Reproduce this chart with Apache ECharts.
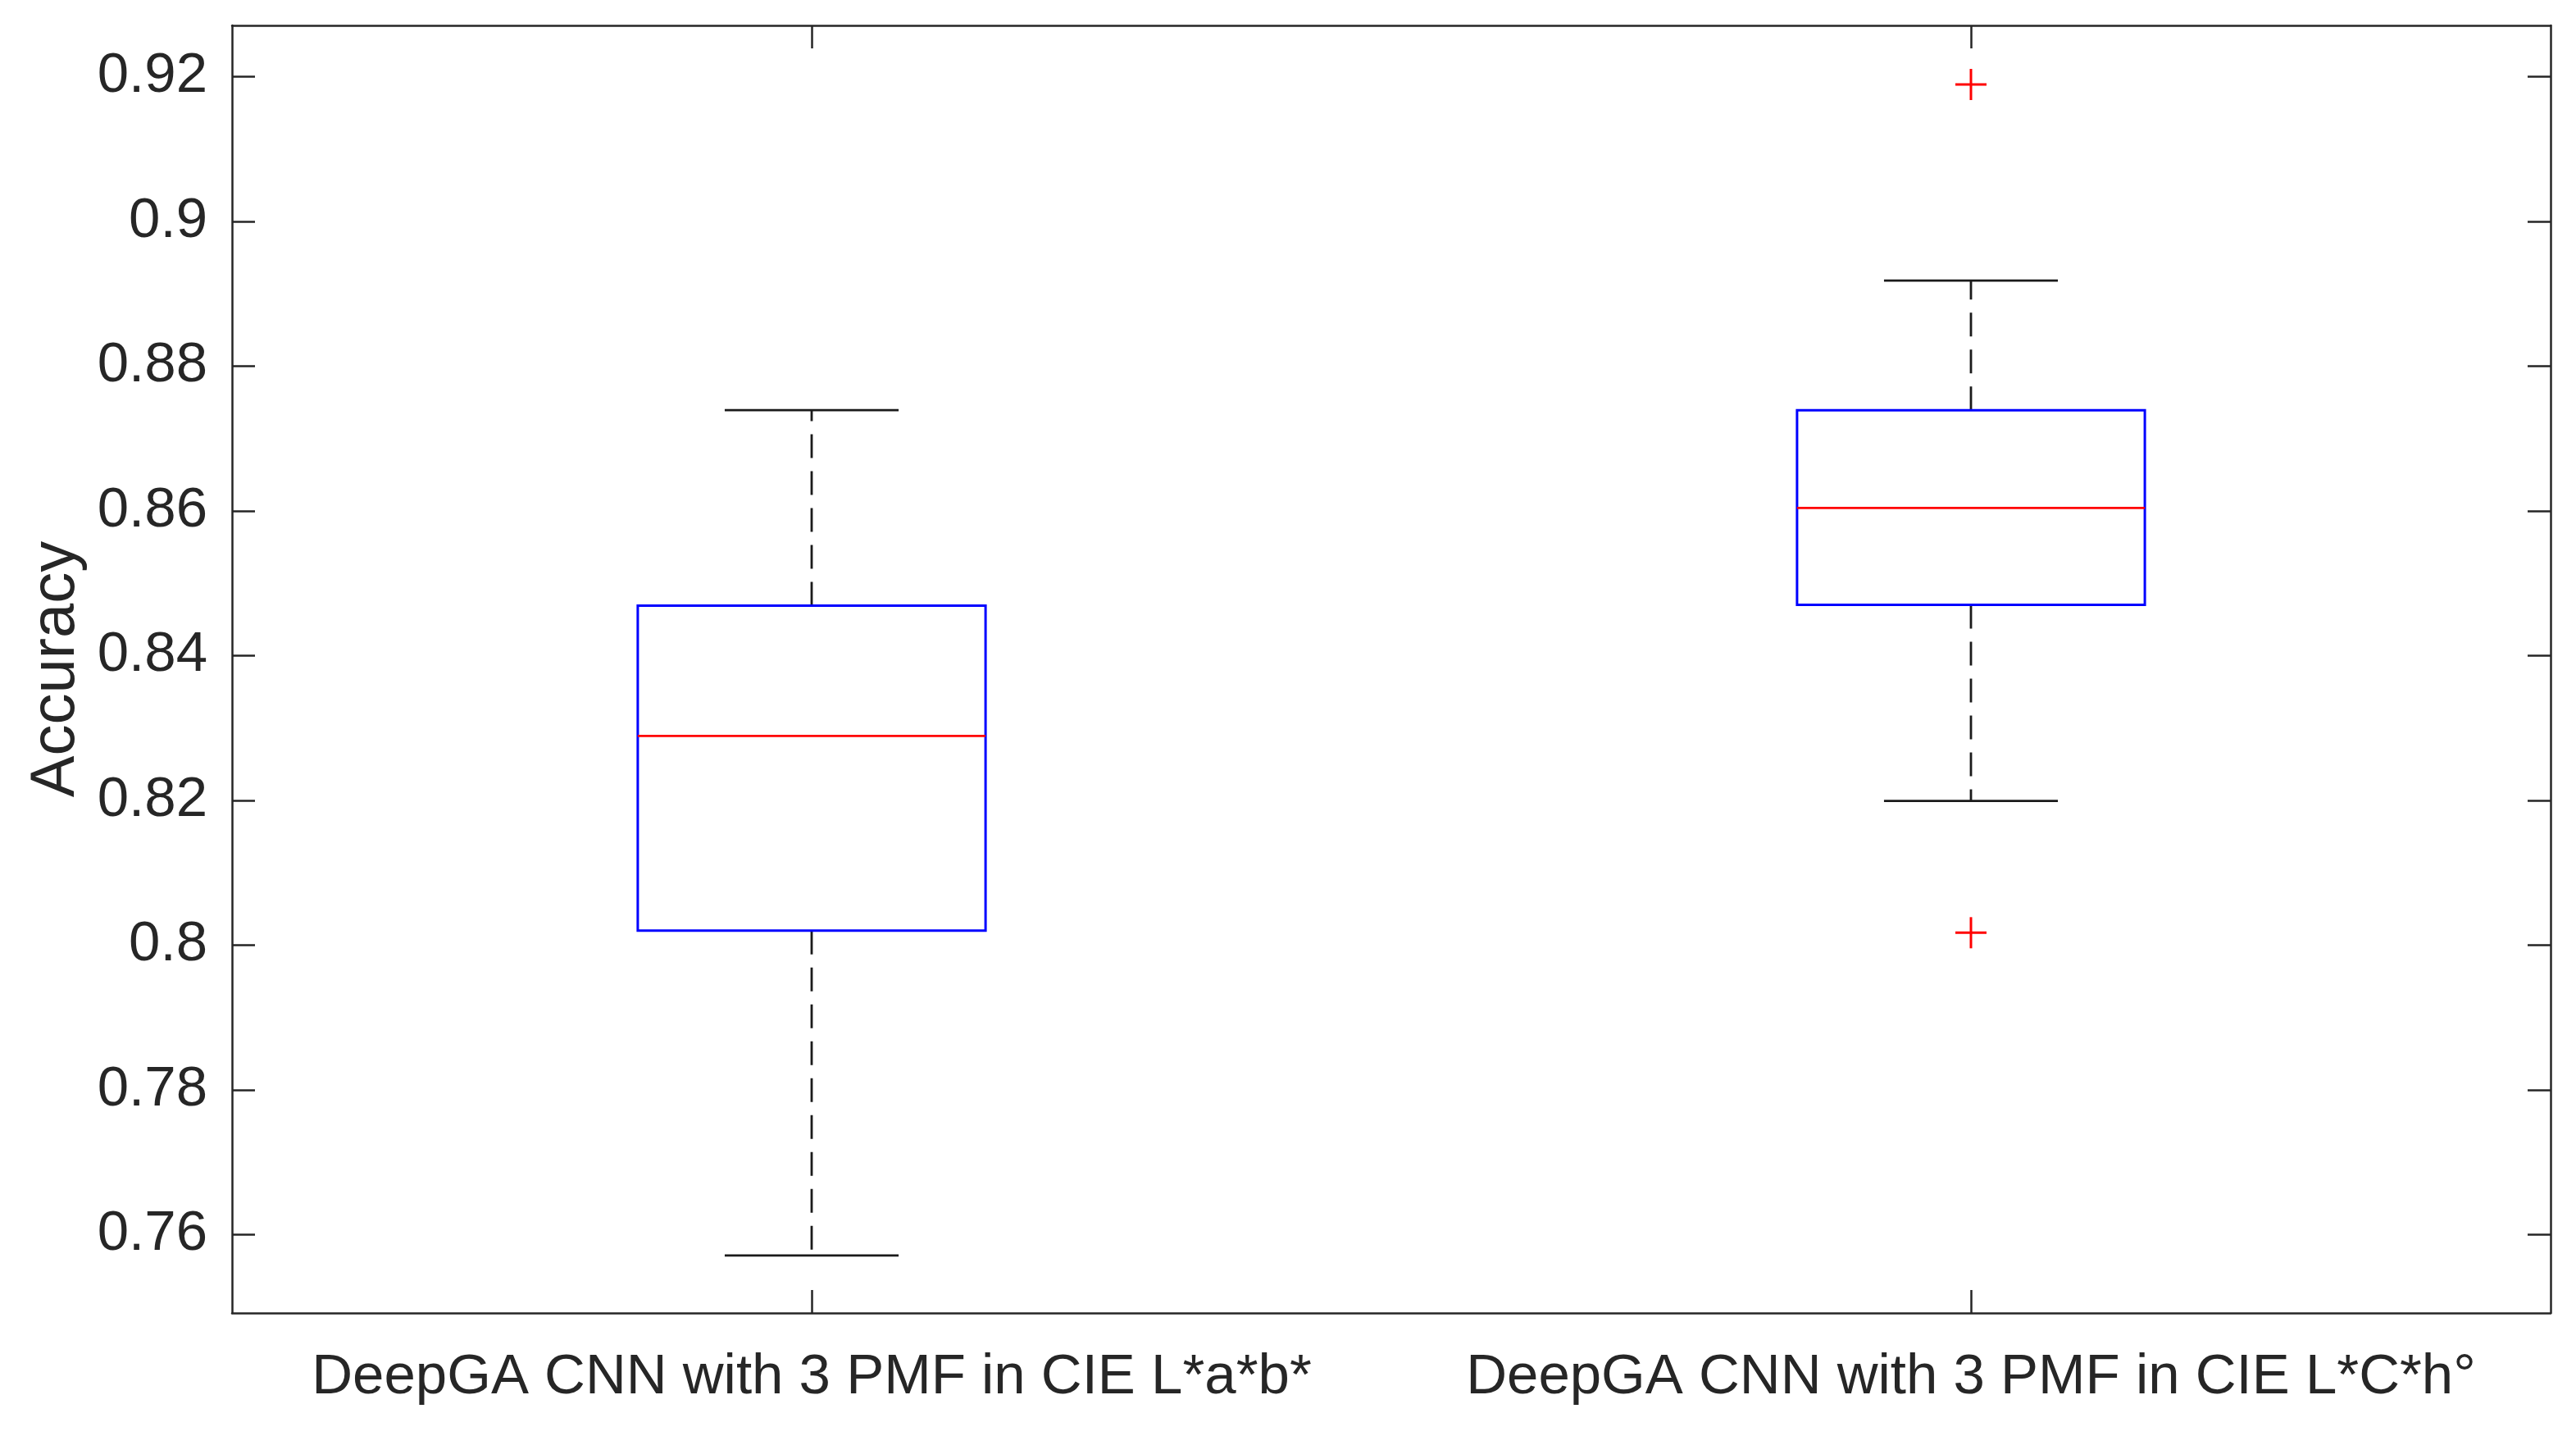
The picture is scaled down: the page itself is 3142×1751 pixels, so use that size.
<!DOCTYPE html>
<html>
<head>
<meta charset="utf-8">
<script src="https://cdn.jsdelivr.net/npm/echarts@6/dist/echarts.min.js"></script>
<style>html,body{margin:0;padding:0;background:#fff;}#c{width:3142px;height:1751px;}</style>
</head>
<body>
<div id="c"></div>
<script>
var categories = ['DeepGA CNN with 3 PMF in CIE L*a*b*', 'DeepGA CNN with 3 PMF in CIE L*C*h°'];
var whiskerLow = [0.7571, 0.8199];
var q1 = [0.8020, 0.8470];
var median = [0.8289, 0.8604];
var q3 = [0.8469, 0.8739];
var whiskerHigh = [0.8739, 0.8918];
var outliers = [[1, 0.9189], [1, 0.8017]];
var yTicks = [0.76, 0.78, 0.80, 0.82, 0.84, 0.86, 0.88, 0.90, 0.92];
var yMin = 0.74916, yMax = 0.92706;

var boxData = categories.map(function (c, i) {
  return [i, whiskerLow[i], q1[i], median[i], q3[i], whiskerHigh[i]];
});

var axisColor = '#262626';
var font = '"Liberation Sans", Arial, Helvetica, sans-serif';

function renderBox(params, api) {
  var i = api.value(0);
  var band = api.size([1, 0])[0];
  var hw = band * 0.15;
  var cw = hw * 0.5;
  var pMin = api.coord([i, api.value(1)]);
  var pQ1 = api.coord([i, api.value(2)]);
  var pMed = api.coord([i, api.value(3)]);
  var pQ3 = api.coord([i, api.value(4)]);
  var pMax = api.coord([i, api.value(5)]);
  var x = pQ1[0];
  var dash = {stroke: '#1a1a1a', lineWidth: 2.8, lineDash: [29, 16]};
  var solidK = {stroke: '#1a1a1a', lineWidth: 2.8};
  return {
    type: 'group',
    children: [
      {type: 'line', shape: {x1: x, y1: pQ3[1], x2: x, y2: pMax[1]}, style: dash},
      {type: 'line', shape: {x1: x, y1: pQ1[1], x2: x, y2: pMin[1]}, style: dash},
      {type: 'line', shape: {x1: x - cw, y1: pMax[1], x2: x + cw, y2: pMax[1]}, style: solidK},
      {type: 'line', shape: {x1: x - cw, y1: pMin[1], x2: x + cw, y2: pMin[1]}, style: solidK},
      {type: 'rect', shape: {x: x - hw, y: pQ3[1], width: 2 * hw, height: pQ1[1] - pQ3[1]},
        style: {fill: 'none', stroke: '#0000ff', lineWidth: 3}},
      {type: 'line', shape: {x1: x - hw, y1: pMed[1], x2: x + hw, y2: pMed[1]},
        style: {stroke: '#ff0000', lineWidth: 2.8}}
    ]
  };
}

function renderPlus(params, api) {
  var p = api.coord([api.value(0), api.value(1)]);
  var s = 19;
  var st = {stroke: '#ff0000', lineWidth: 3};
  return {
    type: 'group',
    children: [
      {type: 'line', shape: {x1: p[0] - s, y1: p[1], x2: p[0] + s, y2: p[1]}, style: st},
      {type: 'line', shape: {x1: p[0], y1: p[1] - s, x2: p[0], y2: p[1] + s}, style: st}
    ]
  };
}

var chart = echarts.init(document.getElementById('c'), null, {renderer: 'canvas'});
var yAxisBase = {
  type: 'value', min: yMin, max: yMax,
  axisLine: {show: true, lineStyle: {color: axisColor, width: 2.5}},
  axisTick: {show: true, inside: true, length: 28, customValues: yTicks, lineStyle: {color: axisColor, width: 2.5}},
  splitLine: {show: false}
};
chart.setOption({
  animation: false,
  backgroundColor: '#fff',
  grid: {left: 283, right: 31, top: 31, bottom: 150, containLabel: false},
  xAxis: [
    {
      type: 'category', data: categories, position: 'bottom', boundaryGap: true,
      axisLine: {show: true, onZero: false, lineStyle: {color: axisColor, width: 2.5}},
      axisTick: {show: true, inside: true, length: 28, alignWithLabel: true, lineStyle: {color: axisColor, width: 2.5}},
      axisLabel: {show: true, interval: 0, hideOverlap: false, margin: 44, fontSize: 69, fontFamily: font, color: axisColor},
      splitLine: {show: false}
    },
    {
      type: 'category', data: categories, position: 'top', boundaryGap: true,
      axisLine: {show: true, onZero: false, lineStyle: {color: axisColor, width: 2.5}},
      axisTick: {show: true, inside: true, length: 28, alignWithLabel: true, lineStyle: {color: axisColor, width: 2.5}},
      axisLabel: {show: false},
      splitLine: {show: false}
    }
  ],
  yAxis: [
    Object.assign({}, yAxisBase, {
      position: 'left',
      name: 'Accuracy', nameLocation: 'middle', nameRotate: 90, nameGap: 176,
      nameTextStyle: {fontSize: 76, fontFamily: font, color: axisColor},
      axisLabel: {show: true, margin: 30, fontSize: 69, fontFamily: font, color: axisColor,
        customValues: yTicks,
        formatter: function (v) { return String(+v.toFixed(2)); }}
    }),
    Object.assign({}, yAxisBase, {
      position: 'right',
      axisLabel: {show: false}
    })
  ],
  series: [
    {type: 'custom', xAxisIndex: 0, yAxisIndex: 0, data: boxData, renderItem: renderBox,
      encode: {x: 0, y: [1, 2, 3, 4, 5]}, silent: true, clip: false},
    {type: 'custom', xAxisIndex: 0, yAxisIndex: 0, data: outliers, renderItem: renderPlus,
      encode: {x: 0, y: 1}, silent: true}
  ]
});
</script>
</body>
</html>
